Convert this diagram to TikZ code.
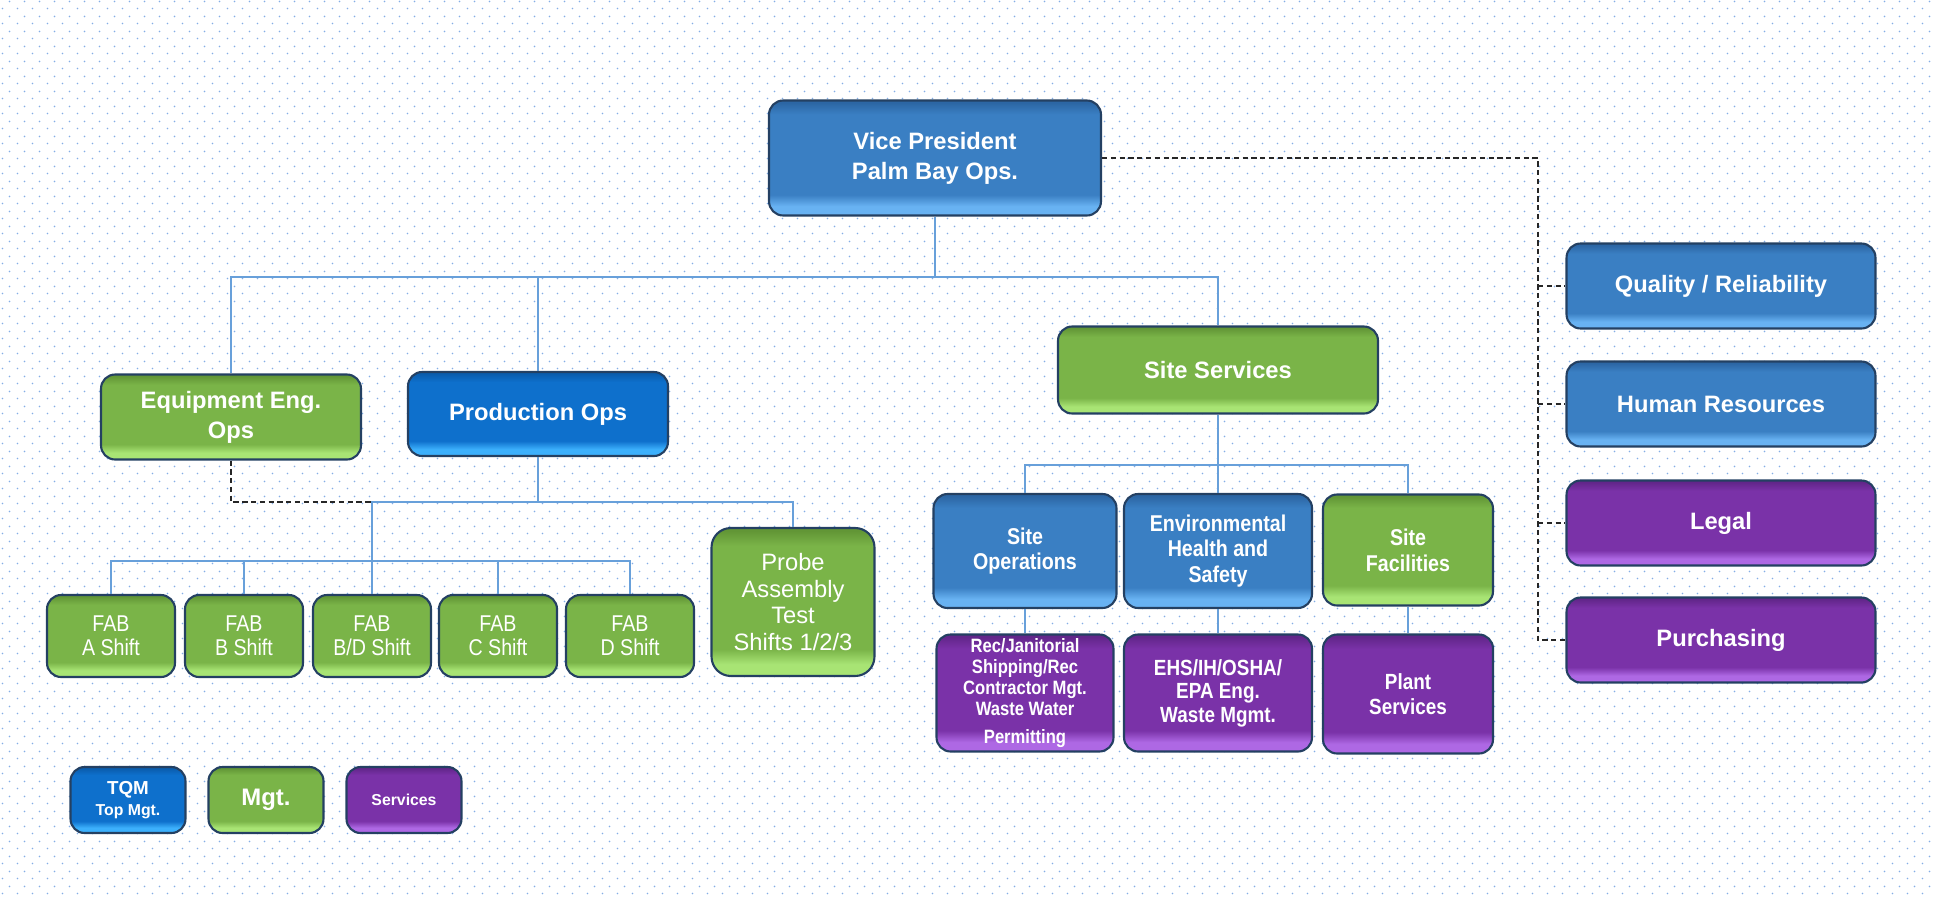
\documentclass[tikz,border=0pt]{standalone}
\usepackage{fontspec}
\setmainfont{Liberation Sans}
\newfontfamily\narrowfont[FakeStretch=0.86]{Liberation Sans}
\usepackage{tikz}
\usetikzlibrary{patterns, calc}

\definecolor{dotblue}{RGB}{132,174,230}
\definecolor{tiecol}{RGB}{104,160,218}
\definecolor{rimcol}{RGB}{36,64,98}
\definecolor{opsblue}{RGB}{58,127,195}
\definecolor{opsblueT}{RGB}{44,102,164}
\definecolor{opsblueL}{RGB}{104,178,242}
\definecolor{tqmblue}{RGB}{14,112,204}
\definecolor{tqmblueT}{RGB}{10,92,172}
\definecolor{tqmblueL}{RGB}{60,176,252}
\definecolor{mgtgreen}{RGB}{122,180,72}
\definecolor{mgtgreenT}{RGB}{98,150,54}
\definecolor{mgtgreenL}{RGB}{168,228,116}
\definecolor{svcpurple}{RGB}{122,50,168}
\definecolor{svcpurpleT}{RGB}{98,38,138}
\definecolor{svcpurpleL}{RGB}{174,104,228}
\colorlet{bvtop}{opsblueT}
\colorlet{bvmid}{opsblue}
\colorlet{bvlow}{opsblueL}

% dotted page background
\pgfdeclarepatternformonly{bgdots}{\pgfpointorigin}{\pgfqpoint{8.54pt}{8.54pt}}{\pgfqpoint{8.54pt}{8.54pt}}{%
  \pgfpathcircle{\pgfqpoint{2.13pt}{2.13pt}}{0.57pt}%
  \pgfpathcircle{\pgfqpoint{6.40pt}{6.40pt}}{0.57pt}%
  \pgfusepath{fill}}

% flat face, dark top rim, light bottom rim
\pgfdeclareverticalshading[bvtop,bvmid,bvlow]{bevel}{100bp}{%
  color(0bp)=(bvlow); color(25bp)=(bvlow); color(29bp)=(bvlow);
  color(34bp)=(bvmid); color(69bp)=(bvmid); color(74bp)=(bvtop);
  color(100bp)=(bvtop)}

\begin{document}
\begin{tikzpicture}[
  x=0.02cm, y=-0.02cm,
  box/.style={
    draw=rimcol,
    line width=1.2pt,
    rounded corners=8pt,
    shade, shading=bevel,
    text=white,
    align=center,
    inner sep=1.5pt
  },
  bluebox/.style={box, /utils/exec={\colorlet{bvtop}{opsblueT}\colorlet{bvmid}{opsblue}\colorlet{bvlow}{opsblueL}}},
  tqmbox/.style={box, /utils/exec={\colorlet{bvtop}{tqmblueT}\colorlet{bvmid}{tqmblue}\colorlet{bvlow}{tqmblueL}}},
  greenbox/.style={box, /utils/exec={\colorlet{bvtop}{mgtgreenT}\colorlet{bvmid}{mgtgreen}\colorlet{bvlow}{mgtgreenL}}},
  purplebox/.style={box, /utils/exec={\colorlet{bvtop}{svcpurpleT}\colorlet{bvmid}{svcpurple}\colorlet{bvlow}{svcpurpleL}}},
  headtext/.style={font=\fontsize{13.5}{17}\selectfont\bfseries},
  unittext/.style={font=\narrowfont\fontsize{13}{14.7}\selectfont\bfseries},
  fabtext/.style={font=\narrowfont\fontsize{13}{13.8}\selectfont},
  staffbox/.style={headtext, minimum width=6.18cm, minimum height=1.70cm},
  fabbox/.style={greenbox, fabtext, minimum width=2.36cm, minimum height=1.64cm},
  legendbox/.style={minimum width=2.30cm, minimum height=1.32cm},
  tie/.style={draw=tiecol, line width=0.85pt},
  staffline/.style={draw=black!85, line width=0.7pt, dash pattern=on 3pt off 2pt}
]

% Page with the dotted grid.
\useasboundingbox (0,0) rectangle (1933,896);
\fill[pattern=bgdots, pattern color=dotblue] (0,0) rectangle (1933,896);

% Top of the chart.
\node[bluebox, headtext, minimum width=6.64cm, minimum height=2.30cm] (vp) at (935,158)
{Vice President\\Palm Bay Ops.};

% First level under the VP.
\node[greenbox, headtext, minimum width=5.2cm, minimum height=1.70cm] (equip) at (231,417)
{Equipment Eng.\\Ops};
\node[tqmbox, headtext, minimum width=5.2cm, minimum height=1.68cm] (prod) at (538,414)
{Production Ops};
\node[greenbox, headtext, minimum width=6.4cm, minimum height=1.74cm] (sitesvc) at (1218,370)
{Site Services};

% Staff functions on the right.
\node[bluebox, staffbox] (qual) at (1721,286) {Quality / Reliability};
\node[bluebox, staffbox] (hr) at (1721,404) {Human Resources};
\node[purplebox, staffbox] (legal) at (1721,523) {Legal};
\node[purplebox, staffbox] (purch) at (1721,640) {Purchasing};

% Shop floor under Production Ops.
\node[fabbox, minimum width=2.56cm] (faba) at (111,636) {FAB\\A Shift};
\node[fabbox] (fabb) at (244,636) {FAB\\B Shift};
\node[fabbox] (fabbd) at (372,636) {FAB\\B/D Shift};
\node[fabbox] (fabc) at (498,636) {FAB\\C Shift};
\node[fabbox, minimum width=2.56cm] (fabd) at (630,636) {FAB\\D Shift};
\node[greenbox, font=\fontsize{13.5}{15.2}\selectfont, rounded corners=11pt,
  minimum width=3.26cm, minimum height=2.96cm] (probe) at (793,602)
{Probe\\Assembly\\Test\\Shifts 1/2/3};

% Units under Site Services.
\node[bluebox, unittext, minimum width=3.66cm, minimum height=2.28cm] (siteops) at (1025,551)
{Site\\Operations};
\node[bluebox, unittext, minimum width=3.76cm, minimum height=2.28cm] (env) at (1218,551)
{Environmental\\Health and\\Safety};
\node[greenbox, unittext, minimum width=3.40cm, minimum height=2.22cm] (sitefac) at (1408,550)
{Site\\Facilities};

\node[purplebox, font=\narrowfont\fontsize{11}{12}\selectfont\bfseries,
  minimum width=3.54cm, minimum height=2.34cm] (rec) at (1025,693)
{Rec/Janitorial\\Shipping/Rec\\Contractor Mgt.\\Waste Water\\[4pt]Permitting};
\node[purplebox, font=\narrowfont\fontsize{12.5}{13.4}\selectfont\bfseries,
  minimum width=3.76cm, minimum height=2.34cm] (ehs) at (1218,693)
{EHS/IH/OSHA/\\EPA Eng.\\Waste Mgmt.};
\node[purplebox, font=\narrowfont\fontsize{12.5}{14}\selectfont\bfseries,
  minimum width=3.40cm, minimum height=2.38cm] (plant) at (1408,694)
{Plant\\Services};

% Legend.
\node[tqmbox, legendbox, font=\fontsize{10.7}{12}\selectfont\bfseries] (keytqm) at (128,800)
{TQM\\{\fontsize{9}{10}\selectfont Top Mgt.}};
\node[greenbox, legendbox, font=\fontsize{13.6}{15}\selectfont\bfseries] (keymgt) at (266,800)
{Mgt.};
\node[purplebox, legendbox, font=\fontsize{9}{11}\selectfont\bfseries] (keysvc) at (404,800)
{Services};

% VP to the first level.
\coordinate (topbus) at (935,277);
\draw[tie] (vp.south) -- (topbus);
\draw[tie] (equip.north) |- (topbus);
\draw[tie] (prod.north) |- (topbus);
\draw[tie] (sitesvc.north) |- (topbus);

% Production Ops to the shifts.
\coordinate (floorbus) at (538,502);
\coordinate (fabbus) at (372,561);
\draw[tie] (prod.south) -- (floorbus);
\draw[tie] (fabbd.north) |- (floorbus);
\draw[tie] (probe.north) |- (floorbus);
\foreach \f in {faba,fabb,fabc,fabd}
  \draw[tie] (\f.north) |- (fabbus);

% Equipment support joins the shop floor.
\draw[staffline] (equip.south) |- (floorbus -| fabbd.north);

% Site Services to its units.
\coordinate (sitebus) at (1218,465);
\draw[tie] (sitesvc.south) -- (env.north);
\draw[tie] (siteops.north) |- (sitebus);
\draw[tie] (sitefac.north) |- (sitebus);
\draw[tie] (siteops.south) -- (rec.north);
\draw[tie] (env.south) -- (ehs.north);
\draw[tie] (sitefac.south) -- (plant.north);

% Dotted staff line from the VP.
\coordinate (staffx) at (1538,158);
\draw[staffline] (vp.east) -- (staffx) |- (purch.west);
\foreach \s in {qual,hr,legal}
  \draw[staffline] (staffx |- \s.west) -- (\s.west);

\end{tikzpicture}
\end{document}
